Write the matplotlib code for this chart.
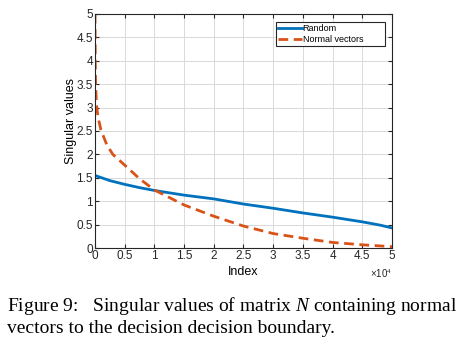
import matplotlib
matplotlib.use("Agg")
import matplotlib.pyplot as plt

plt.rcParams['font.family'] = ['Liberation Sans', 'DejaVu Sans']
plt.rcParams['mathtext.fontset'] = 'custom'
plt.rcParams['mathtext.it'] = 'Liberation Serif:italic'
plt.rcParams['mathtext.rm'] = 'Liberation Serif'

# singular values, index in units of 1e4
idx_random = [0, 0.25, 0.5, 0.75, 1.0, 1.5, 2.0, 2.5, 3.0, 3.5, 4.0, 4.5, 4.8, 5.0]
sv_random = [1.55, 1.44, 1.36, 1.29, 1.23, 1.13, 1.05, 0.94, 0.85, 0.75, 0.66, 0.56, 0.49, 0.43]

idx_normal = [0, 0.005, 0.01, 0.02, 0.03, 0.05, 0.1, 0.2, 0.3, 0.5, 0.75, 1.0,
              1.5, 2.0, 2.5, 3.0, 3.5, 4.0, 4.5, 5.0]
sv_normal = [5.0, 3.9, 3.5, 3.2, 3.0, 2.8, 2.52, 2.2, 2.0, 1.77, 1.48, 1.24,
             0.92, 0.68, 0.47, 0.31, 0.21, 0.12, 0.07, 0.03]

xticks = [0, 0.5, 1, 1.5, 2, 2.5, 3, 3.5, 4, 4.5, 5]
yticks = [0, 0.5, 1, 1.5, 2, 2.5, 3, 3.5, 4, 4.5, 5]

fig = plt.figure(figsize=(4.59, 3.46), dpi=100)
ax = fig.add_axes([0.207, 0.283, 0.647, 0.677])

ax.plot(idx_random, sv_random, color='#0072BD', lw=2.0, label='Random')
ax.plot(idx_normal, sv_normal, color='#D95319', lw=2.0, ls=(0, (3.5, 2.0)),
        label='Normal vectors')

ax.set_xlim(0, 5)
ax.set_ylim(0, 5)
ax.set_xticks(xticks)
ax.set_yticks(yticks)
ax.set_xticklabels([f'{t:g}' for t in xticks])
ax.set_yticklabels([f'{t:g}' for t in yticks])
ax.tick_params(direction='in', top=True, right=True, length=3, width=0.8,
               labelsize=8.5, colors='#262626', pad=1.5)
ax.grid(True, color='#d9d9d9', lw=0.7)
for s in ax.spines.values():
    s.set_color('#262626')
    s.set_linewidth(0.8)

ax.set_xlabel('Index', fontsize=9, labelpad=3)
ax.set_ylabel('Singular values', fontsize=9)
ax.yaxis.set_label_coords(-0.062, 0.543)
ax.text(1.0, -0.085, r'×10$^{4}$', transform=ax.transAxes, ha='right',
        va='top', fontsize=7, color='#262626')

leg = ax.legend(loc='upper left', bbox_to_anchor=(0.609, 0.5, 0.367, 0.466),
                mode='expand', borderaxespad=0, fontsize=6.5,
                handlelength=2.6, handletextpad=0.1, borderpad=0.25,
                labelspacing=0.2, fancybox=False, framealpha=1,
                edgecolor='#262626')
leg.get_frame().set_linewidth(0.8)

fig.text(0.015, 0.101, r'Figure 9:   Singular values of matrix $N$ containing normal',
         fontsize=14, family='Liberation Serif', va='baseline')
fig.text(0.015, 0.037, 'vectors to the decision decision boundary.',
         fontsize=14, family='Liberation Serif', va='baseline')

fig.savefig('out.png', dpi=100)
